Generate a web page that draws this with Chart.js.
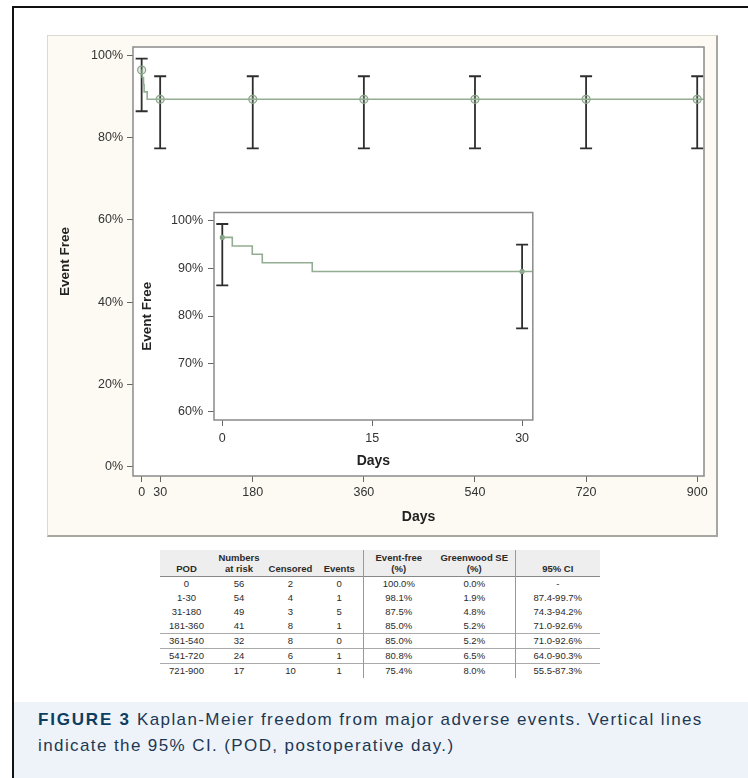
<!DOCTYPE html>
<html>
<head>
<meta charset="utf-8">
<script src="https://cdn.jsdelivr.net/npm/chart.js@4.4.0/dist/chart.umd.min.js"></script>
<style>
  body { margin: 0; background: #fff; font-family: "Liberation Sans", Arial, sans-serif; }
  #page { position: relative; width: 748px; height: 778px; overflow: hidden; }
  #frame { position: absolute; left: 12px; top: 6px; width: 760px; height: 800px; border-left: 2px solid #111; border-top: 2px solid #111; }
  #panel { position: absolute; left: 47px; top: 35px; width: 671px; height: 502px; box-sizing: border-box;
    background: #fcfaf3; border: 1px solid #dcd9d0; border-right: 2px solid #a8a6a0; border-bottom: 2px solid #a8a6a0; }
  #main { position: absolute; left: 47px; top: 35px; }
  #inset { position: absolute; left: 138px; top: 200px; }
  #pod { position: absolute; left: 160px; top: 550px; width: 440px; border-collapse: collapse; table-layout: fixed;
    font-size: 9.5px; color: #2a2a2a; }
  #pod th { background: #eeeeee; font-weight: bold; vertical-align: bottom; padding: 0 0 2px 0; line-height: 11px; height: 24px; }
  #pod td { text-align: center; padding: 0; height: 14px; line-height: 14px; }
  #pod thead tr { border-bottom: 1px solid #888; }
  #pod .sep { border-left: 1px solid #999; }
  #pod tr.line td { border-top: 1px solid #aaa; }
  #caption { position: absolute; left: 14px; top: 702px; width: 734px; height: 76px; background: #eef3fa; }
  #caption p { margin: 0; position: absolute; left: 24px; top: 5px; font-size: 17px; line-height: 26px; color: #1d3853; letter-spacing: 1.4px; white-space: nowrap; }
  #caption b { color: #0d3d60; letter-spacing: 1.8px; }
</style>
</head>
<body>
<div id="page">
  <div id="frame"></div>
  <div id="panel"></div>
  <canvas id="main" width="671" height="502"></canvas>
  <canvas id="inset" width="400" height="272"></canvas>
  <table id="pod"></table>
  <div id="caption"><p><b>FIGURE 3</b> Kaplan-Meier freedom from major adverse events. Vertical lines<br>indicate the 95% CI. (POD, postoperative day.)</p></div>
</div>
<script>
// Kaplan-Meier step curve (days, % event free)
const kmDays = [0, 1, 3, 4, 9, 911];
const kmFree = [96.4, 94.6, 92.9, 91.1, 89.3, 89.3];

// points with 95% CI bars
const ciDays = [0, 30, 180, 360, 540, 720, 900];
const ciEst = [96.4, 89.3, 89.3, 89.3, 89.3, 89.3, 89.3];
const ciLow = [86.4, 77.4, 77.4, 77.4, 77.4, 77.4, 77.4];
const ciHigh = [99.2, 94.9, 94.9, 94.9, 94.9, 94.9, 94.9];

const mainXTicks = [0, 30, 180, 360, 540, 720, 900];
const mainYTicks = [0, 20, 40, 60, 80, 100];
const insetXTicks = [0, 15, 30];
const insetYTicks = [60, 70, 80, 90, 100];

// table under the plot
const podHead = [['POD', ''], ['Numbers', 'at risk'], ['Censored', ''], ['Events', ''], ['Event-free', '(%)'], ['Greenwood SE', '(%)'], ['95% CI', '']];
const podRows = [
  ['0', '56', '2', '0', '100.0%', '0.0%', '-'],
  ['1-30', '54', '4', '1', '98.1%', '1.9%', '87.4-99.7%'],
  ['31-180', '49', '3', '5', '87.5%', '4.8%', '74.3-94.2%'],
  ['181-360', '41', '8', '1', '85.0%', '5.2%', '71.0-92.6%'],
  ['361-540', '32', '8', '0', '85.0%', '5.2%', '71.0-92.6%'],
  ['541-720', '24', '6', '1', '80.8%', '6.5%', '64.0-90.3%'],
  ['721-900', '17', '10', '1', '75.4%', '8.0%', '55.5-87.3%']
];
const podWidths = [53, 52, 51, 47, 71, 81, 85];

const lineColor = '#93ad93';
const barColor = '#2e2e2e';
const tickFont = { family: '"Liberation Sans", Arial, sans-serif', size: 12.5 };
const titleFont = { family: '"Liberation Sans", Arial, sans-serif', size: 13.5, weight: 'bold' };

// white plot box + grey frame
const plotBox = {
  id: 'plotBox',
  beforeDraw(chart) {
    const a = chart.chartArea, ctx = chart.ctx;
    ctx.save();
    ctx.fillStyle = '#fff';
    ctx.fillRect(a.left, a.top, a.right - a.left, a.bottom - a.top);
    ctx.restore();
  },
  afterDraw(chart) {
    const a = chart.chartArea, ctx = chart.ctx;
    ctx.save();
    ctx.strokeStyle = '#8a8a8a';
    ctx.lineWidth = 1.5;
    ctx.strokeRect(a.left, a.top, a.right - a.left, a.bottom - a.top);
    ctx.restore();
  }
};

// CI bars drawn with the chart scales
const errorBars = {
  id: 'errorBars',
  beforeDatasetsDraw(chart, args, opts) {
    const x = chart.scales.x, y = chart.scales.y, ctx = chart.ctx;
    ctx.save();
    ctx.strokeStyle = barColor;
    ctx.lineWidth = 1.8;
    ciDays.forEach((d, i) => {
      if (d > x.max) return;
      const px = x.getPixelForValue(d);
      const lo = y.getPixelForValue(ciLow[i]);
      const hi = y.getPixelForValue(ciHigh[i]);
      ctx.beginPath();
      ctx.moveTo(px, lo); ctx.lineTo(px, hi);
      ctx.moveTo(px - opts.cap, lo); ctx.lineTo(px + opts.cap, lo);
      ctx.moveTo(px - opts.cap, hi); ctx.lineTo(px + opts.cap, hi);
      ctx.stroke();
    });
    ctx.restore();
  }
};

function makeChart(el, cfg) {
  return new Chart(document.getElementById(el), {
    type: 'scatter',
    data: {
      datasets: [{
        data: kmDays.map((d, i) => ({ x: d, y: kmFree[i] })),
        showLine: true,
        stepped: 'before',
        borderColor: lineColor,
        borderWidth: 1.6,
        pointRadius: 0
      }, {
        data: ciDays.filter(d => d <= cfg.xMax).map((d, i) => ({ x: d, y: ciEst[i] })),
        showLine: false,
        pointRadius: cfg.pointRadius,
        pointBorderWidth: 1.2,
        borderColor: '#86a286',
        backgroundColor: cfg.pointFill
      }]
    },
    options: {
      responsive: false,
      animation: false,
      layout: { padding: cfg.padding },
      plugins: { legend: { display: false }, tooltip: { enabled: false }, errorBars: { cap: cfg.cap } },
      scales: {
        x: {
          type: 'linear', min: cfg.xMin, max: cfg.xMax,
          afterBuildTicks: s => { s.ticks = cfg.xTicks.map(v => ({ value: v })); },
          afterFit: s => { s.height = cfg.xHeight; },
          grid: { drawOnChartArea: false, tickLength: 6, color: '#666' },
          border: { display: false },
          ticks: { color: '#333', font: tickFont, padding: cfg.xPad, maxRotation: 0 },
          title: { display: true, text: 'Days', color: '#222', font: { ...titleFont, size: cfg.daysSize }, padding: { top: 0, bottom: cfg.daysPad } }
        },
        y: {
          min: cfg.yMin, max: cfg.yMax,
          afterBuildTicks: s => { s.ticks = cfg.yTicks.map(v => ({ value: v })); },
          afterFit: s => { s.width = cfg.yWidth; },
          grid: { drawOnChartArea: false, tickLength: 6, color: '#666' },
          border: { display: false },
          ticks: { color: '#333', font: tickFont, padding: cfg.yPad, callback: v => v + '%' },
          title: { display: true, text: 'Event Free', color: '#222', font: titleFont, padding: { top: cfg.titlePad, bottom: 0 } }
        }
      }
    },
    plugins: [plotBox, errorBars]
  });
}

const mainChart = makeChart('main', {
  xMin: -14, xMax: 911, yMin: -2.2, yMax: 102,
  xTicks: mainXTicks, yTicks: mainYTicks,
  padding: { left: 0, top: 12, right: 14, bottom: 0 },
  xHeight: 61, yWidth: 86, xPad: 3, yPad: 4, titlePad: 10, daysPad: 11, daysSize: 14,
  cap: 6, pointRadius: 4, pointFill: 'rgba(150,180,150,0.25)'
});

const insetChart = makeChart('inset', {
  xMin: -0.83, xMax: 31.07, yMin: 58.3, yMax: 101.6,
  xTicks: insetXTicks, yTicks: insetYTicks,
  padding: { left: 0, top: 10, right: 5, bottom: 0 },
  xHeight: 52, yWidth: 76, xPad: 5, yPad: 5, titlePad: 1, daysPad: 2, daysSize: 14,
  cap: 6, pointRadius: 2, pointFill: '#7f9c7f'
});

// build the table
const table = document.getElementById('pod');
const cg = document.createElement('colgroup');
podWidths.forEach(w => { const c = document.createElement('col'); c.style.width = w + 'px'; cg.appendChild(c); });
table.appendChild(cg);
const thead = table.createTHead();
const hr = thead.insertRow();
podHead.forEach((h, i) => {
  const th = document.createElement('th');
  th.innerHTML = h[1] ? h[0] + '<br>' + h[1] : h[0];
  if (i === 4 || i === 6) th.className = 'sep';
  hr.appendChild(th);
});
const tbody = table.createTBody();
podRows.forEach((r, ri) => {
  const tr = tbody.insertRow();
  if (ri >= 4) tr.className = 'line';
  r.forEach((v, i) => {
    const td = tr.insertCell();
    td.textContent = v;
    if (i === 4 || i === 6) td.className = 'sep';
  });
});
</script>
</body>
</html>
